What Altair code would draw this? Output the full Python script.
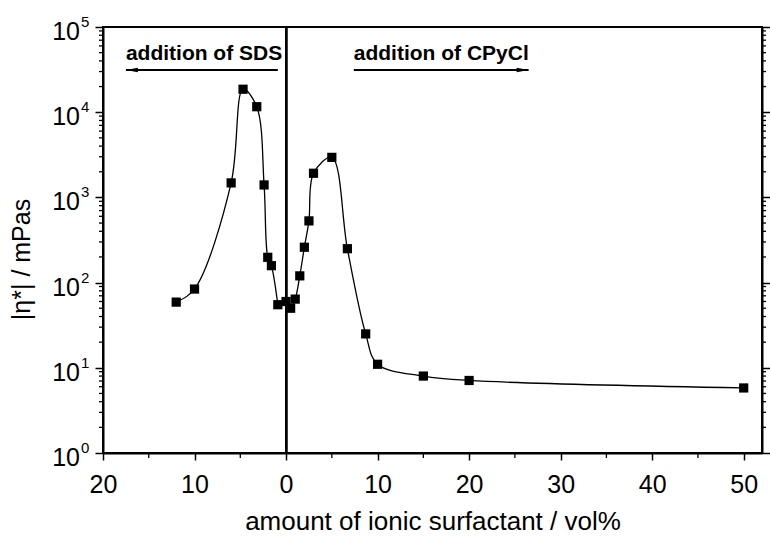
import altair as alt
import pandas as pd

# ---- data ----
sds_x = [-12.0, -10.0, -6.0, -4.7, -3.2, -2.4, -2.0, -1.6, -0.9]
sds_y = [59, 84, 1480, 18600, 11600, 1400, 198, 158, 55]

cpy_x = [0.0, 0.5, 1.0, 1.5, 2.0, 2.5, 3.0, 5.0, 6.7, 8.7, 10.0, 15.0, 20.0, 50.0]
cpy_y = [60, 50, 64, 120, 260, 530, 1920, 2950, 250, 25, 11, 8.0, 7.1, 5.8]

ann_text = ["addition of SDS", "addition of CPyCl"]
ann_x = [-17.5, 7.4]
ann_y = [41000, 41000]

arrow_x1 = [-0.9, 7.4]
arrow_x2 = [-17.5, 26.5]
arrow_y = [31300, 31300]

decades = [1, 10, 100, 1000, 10000, 100000]
exponents = ["0", "1", "2", "3", "4", "5"]
x_major = list(range(-20, 51, 10))
x_minor = list(range(-15, 50, 10))
y_minor = [m * 10 ** k for k in range(5) for m in range(2, 10)]

FONT = "Liberation Sans"
W, H = 659, 426

pts = pd.DataFrame(
    {
        "x": sds_x + cpy_x,
        "y": sds_y + cpy_y,
        "series": ["SDS"] * len(sds_x) + ["CPyCl"] * len(cpy_x),
    }
)
ann = pd.DataFrame({"x": ann_x, "y": ann_y, "t": ann_text})
arr = pd.DataFrame({"x": arrow_x1, "x2": arrow_x2, "y": arrow_y})
head_l = pd.DataFrame({"x": [arrow_x2[0]], "y": [arrow_y[0]]})
head_r = pd.DataFrame({"x": [arrow_x2[1]], "y": [arrow_y[1]]})
ylab = pd.DataFrame({"y": decades, "e": exponents})
yminor_df = pd.DataFrame({"y": y_minor})
xminor_df = pd.DataFrame({"x": x_minor})

xscale = alt.Scale(domain=[-20, 52], nice=False, zero=False)
yscale = alt.Scale(type="log", domain=[1, 100000], nice=False)

x_axis = alt.Axis(
    values=x_major,
    labelExpr="format(abs(datum.value), 'd')",
    tickSize=7,
    labelPadding=12,
    labelFontSize=25,
    labelFlush=False,
    labelOverlap=False,
    title="amount of ionic surfactant / vol%",
    titleFontSize=26,
    titleBaseline="alphabetic",
    titleY=76,
    grid=False,
)

left_axis = alt.Axis(
    orient="left",
    values=decades,
    labels=False,
    tickSize=8,
    title="|η*| / mPas",
    titleFontSize=25,
    titleAngle=270,
    titleAlign="center",
    titleBaseline="middle",
    titleX=-82,
    titleY=232,
    grid=False,
)

right_axis = alt.Axis(
    orient="right",
    values=decades,
    labels=False,
    tickSize=8,
    title=None,
    grid=False,
)

lines = alt.Chart(pts).mark_line(
    interpolate="catmull-rom", color="black", strokeWidth=1.3
).encode(
    x=alt.X("x:Q", scale=xscale, axis=x_axis),
    y=alt.Y("y:Q", scale=yscale, axis=left_axis),
    detail="series:N",
)

points = alt.Chart(pts).mark_square(
    size=85, color="black", opacity=1, filled=True
).encode(
    x=alt.X("x:Q", scale=xscale),
    y=alt.Y("y:Q", scale=yscale, axis=right_axis),
)

zero_line = alt.Chart(pts).mark_rule(color="black", strokeWidth=2).encode(
    x=alt.datum(0, scale=xscale),
    y=alt.datum(1, scale=yscale, axis=None),
    y2=alt.datum(100000),
)

minor_left = alt.Chart(yminor_df).mark_rule(color="black", strokeWidth=1.3).encode(
    x=alt.value(-4), x2=alt.value(0), y=alt.Y("y:Q", scale=yscale, axis=None)
)
minor_right = alt.Chart(yminor_df).mark_rule(color="black", strokeWidth=1.3).encode(
    x=alt.value(W), x2=alt.value(W + 4), y=alt.Y("y:Q", scale=yscale, axis=None)
)
minor_bottom = alt.Chart(xminor_df).mark_rule(color="black", strokeWidth=1.3).encode(
    x=alt.X("x:Q", scale=xscale), y=alt.value(H), y2=alt.value(H + 5)
)

ann_text_layer = alt.Chart(ann).mark_text(
    align="left", baseline="alphabetic", fontSize=21, fontWeight="bold", font=FONT, color="black"
).encode(
    x=alt.X("x:Q", scale=xscale),
    y=alt.Y("y:Q", scale=yscale, axis=None),
    text="t:N",
)

arrows = alt.Chart(arr).mark_rule(color="black", strokeWidth=1.8).encode(
    x=alt.X("x:Q", scale=xscale),
    x2="x2:Q",
    y=alt.Y("y:Q", scale=yscale, axis=None),
)

heads_left = alt.Chart(head_l).mark_point(
    shape="M0,0L2,-0.38L2,0.38Z", size=144, filled=True, color="black", opacity=1
).encode(
    x=alt.X("x:Q", scale=xscale),
    y=alt.Y("y:Q", scale=yscale, axis=None),
)

heads_right = alt.Chart(head_r).mark_point(
    shape="M0,0L-2,-0.38L-2,0.38Z", size=144, filled=True, color="black", opacity=1
).encode(
    x=alt.X("x:Q", scale=xscale),
    y=alt.Y("y:Q", scale=yscale, axis=None),
)

ylab_base = alt.Chart(ylab).mark_text(
    text="10", align="right", baseline="alphabetic", fontSize=25, font=FONT, color="black", dy=13
).encode(
    x=alt.value(-23),
    y=alt.Y("y:Q", scale=yscale, axis=None),
)

ylab_exp = alt.Chart(ylab).mark_text(
    align="left", baseline="alphabetic", fontSize=15, font=FONT, color="black", dy=0
).encode(
    x=alt.value(-22),
    y=alt.Y("y:Q", scale=yscale, axis=None),
    text="e:N",
)

chart = (
    alt.layer(
        lines, points, zero_line, minor_left, minor_right, minor_bottom,
        ann_text_layer, arrows, heads_left, heads_right, ylab_base, ylab_exp
    )
    .resolve_axis(y="independent")
    .resolve_scale(y="shared")
    .properties(
        width=W,
        height=H,
        autosize=alt.AutoSizeParams(type="none"),
        padding={"left": 103, "top": 27, "right": 8, "bottom": 83},
        background="white",
    )
    .configure_view(stroke="black", strokeWidth=2)
    .configure_axis(
        domainColor="black",
        domainWidth=2,
        tickColor="black",
        tickWidth=1.5,
        labelColor="black",
        labelFont=FONT,
        titleFont=FONT,
        titleColor="black",
        titleFontWeight="normal",
    )
)

chart.save("out.html", embed_options={"renderer": "svg", "actions": False})
